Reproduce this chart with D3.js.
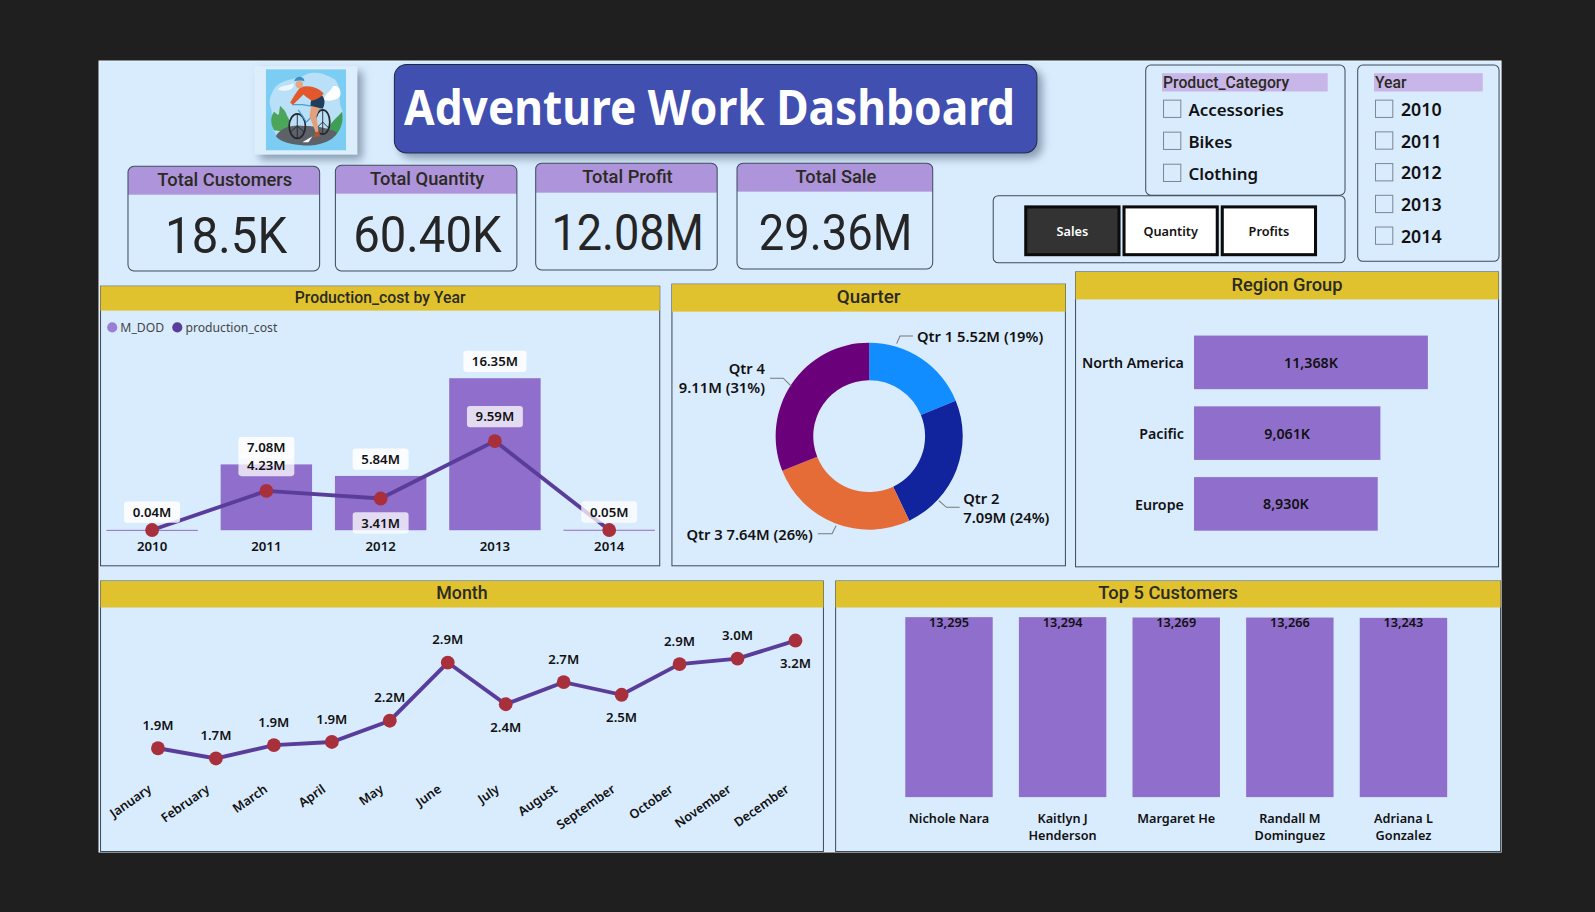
<!DOCTYPE html>
<html>
<head>
<meta charset="utf-8">
<title>Adventure Work Dashboard</title>
<script src="https://cdn.jsdelivr.net/npm/d3@7"></script>
<style>
  html, body { margin: 0; padding: 0; background: #1f1f1f; overflow: hidden; }
  svg { display: block; }
  text { font-family: "Noto Sans", "Open Sans", sans-serif; fill: #111; }
  .din { font-family: Roboto, sans-serif; font-weight: 500; fill: #2b2a22; }
  .semi { font-weight: 600; }
</style>
</head>
<body>
<div id="chart"></div>
<script>
// kpi cards
const kpiTitles = ["Total Customers", "Total Quantity", "Total Profit", "Total Sale"]
const kpiValues = ["18.5K", "60.40K", "12.08M", "29.36M"]

// slicers
const productCategories = ["Accessories", "Bikes", "Clothing"]
const slicerYears = ["2010", "2011", "2012", "2013", "2014"]
const buttons = ["Sales", "Quantity", "Profits"]

// production cost by year
const years = ["2010", "2011", "2012", "2013", "2014"]
const mDod = [0.04, 7.08, 5.84, 16.35, 0.05]
const productionCost = [0.02, 4.23, 3.41, 9.59, 0.02]

// quarter
const quarters = ["Qtr 1", "Qtr 2", "Qtr 3", "Qtr 4"]
const quarterSales = [5.52, 7.09, 7.64, 9.11]
const quarterPct = ["19%", "24%", "26%", "31%"]
const quarterColors = ["#118dff", "#12239e", "#e66c37", "#6b007b"]

// region
const regions = ["North America", "Pacific", "Europe"]
const regionSales = [11368, 9061, 8930]

// month
const months = ["January", "February", "March", "April", "May", "June", "July", "August", "September", "October", "November", "December"]
const monthSales = [1.85, 1.72, 1.89, 1.93, 2.20, 2.94, 2.41, 2.69, 2.53, 2.92, 2.99, 3.22]
const monthLabels = ["1.9M", "1.7M", "1.9M", "1.9M", "2.2M", "2.9M", "2.4M", "2.7M", "2.5M", "2.9M", "3.0M", "3.2M"]
const monthsLabelBelow = ["July", "September", "December"]

// top customers
const customers = ["Nichole Nara", "Kaitlyn J|Henderson", "Margaret He", "Randall M|Dominguez", "Adriana L|Gonzalez"]
const customerSales = [13295, 13294, 13269, 13266, 13243]

const panelBg = "#d9ecfe"
const borderCol = "#3d4a5c"
const purpleHead = "#ae94db"
const yellowHead = "#e0c22e"
const barCol = "#8f6fcb"
const lineCol = "#5a3d9a"
const dotCol = "#a8303d"

// everything below is laid out on a 1568x897 grid and scaled to the window
const svg = d3.select("#chart").append("svg")
    .attr("width", 1595)
    .attr("height", 912)
    .attr("viewBox", "0 0 1568 897")

const defs = svg.append("defs")
const shadow = defs.append("filter").attr("id", "shadow")
    .attr("x", "-10%").attr("y", "-15%").attr("width", "125%").attr("height", "140%")
shadow.append("feDropShadow")
    .attr("dx", 5).attr("dy", 5).attr("stdDeviation", 4)
    .attr("flood-color", "#5c6f86").attr("flood-opacity", 0.65)

svg.append("rect").attr("width", 1568).attr("height", 897).attr("fill", "#1f1f1f")
svg.append("rect")
    .attr("x", 97).attr("y", 60).attr("width", 1379).attr("height", 778)
    .attr("fill", panelBg).attr("stroke", "#eef5fb").attr("stroke-width", 1)

// ---- logo
drawLogo()

function drawLogo() {
    svg.append("rect")
        .attr("x", 250).attr("y", 65).attr("width", 101).attr("height", 87)
        .attr("fill", "#dcedfc").attr("filter", "url(#shadow)")
    defs.append("clipPath").attr("id", "logoClip")
        .append("rect").attr("width", 79).attr("height", 80)
    const g = svg.append("g")
        .attr("transform", "translate(261,68)")
        .attr("clip-path", "url(#logoClip)")
    g.append("rect").attr("width", 79).attr("height", 80).attr("fill", "#7bcdf3")
    g.append("path")
        .attr("d", "M6 24 C12 8 28 12 40 5 C52 1 60 6 68 10 C76 20 70 30 75 40 C78 52 70 62 60 68 C46 76 24 74 12 66 C2 56 8 48 5 38 C3 32 4 28 6 24Z")
        .attr("fill", "#b9e0f6")
    g.append("path").attr("d", "M12 20 C16 15 22 17 27 14 C30 20 20 23 12 20Z").attr("fill", "#eef7fd")
    g.append("path").attr("d", "M57 30 C58 24 63 23 66 17 C71 15 75 20 73 27 C69 31 63 32 57 30Z").attr("fill", "#fff")
    g.append("path").attr("d", "M8 60 C4 52 5 47 8 42 C11 44 12 46 13 44 L14 36 C18 40 20 42 21 46 C24 50 25 56 22 62Z").attr("fill", "#4ba65a")
    g.append("path").attr("d", "M60 62 C62 54 68 50 75 42 C77 50 74 60 68 66Z").attr("fill", "#3f9e55")
    g.append("path").attr("d", "M10 66 C14 58 26 54 38 56 C50 56 62 58 70 62 C68 70 52 76 38 75 C26 74 14 72 10 66Z").attr("fill", "#5d6168")
    g.append("path").attr("d", "M36 72 L46 66 L42 72Z").attr("fill", "#fff")
    const wheel = [[31, 56, 8, 12], [56, 52, 7, 12]]
    g.selectAll("ellipse.w").data(wheel).enter().append("ellipse")
        .attr("class", "w")
        .attr("cx", d => d[0]).attr("cy", d => d[1]).attr("rx", d => d[2]).attr("ry", d => d[3])
        .attr("fill", "none").attr("stroke", "#26282e").attr("stroke-width", 1.7)
    g.append("path").attr("d", "M31 44 V68 M31 56 L24 62 M31 56 L38 62 M56 40 V64 M56 52 L50 58 M56 52 L62 58")
        .attr("stroke", "#26282e").attr("stroke-width", 0.9).attr("fill", "none")
    g.append("path").attr("d", "M26 35 H36 L54 38 L40 52 L32 40").attr("fill", "none").attr("stroke", "#4e9bd6").attr("stroke-width", 1.2)
    g.append("path").attr("d", "M45 34 L43 46 L49 62 L52 62 L50 46 L54 36Z").attr("fill", "#e2a17c")
    g.append("path").attr("d", "M49 62 L53 61 L53 66 L47 67Z").attr("fill", "#b5552f")
    g.append("path").attr("d", "M50 23 C57 24 60 32 56 39 L44 36 C44 30 46 26 50 23Z").attr("fill", "#1f3d5c")
    g.append("path").attr("d", "M34 18 C42 15 52 18 57 24 C54 28 50 30 45 31 C42 29 39 27 37 25 C33 29 30 32 27 35 L24 33 C27 28 30 22 34 18Z").attr("fill", "#e2572b")
    g.append("circle").attr("cx", 33).attr("cy", 15).attr("r", 3.6).attr("fill", "#e6a681")
    g.append("path").attr("d", "M28 12 C29 6 38 6 38 12 C35 11 32 11 28 12Z").attr("fill", "#3e8fc9")
}

// ---- title
svg.append("rect")
    .attr("x", 387.5).attr("y", 63.5).attr("width", 632).attr("height", 87).attr("rx", 12)
    .attr("fill", "#3f4fb0").attr("stroke", "#1d2a4a").attr("stroke-width", 1)
    .attr("filter", "url(#shadow)")
svg.append("text")
    .attr("x", 397).attr("y", 123)
    .attr("font-size", 47).attr("font-weight", 700)
    .attr("textLength", 601).attr("lengthAdjust", "spacingAndGlyphs")
    .style("fill", "#fff")
    .text("Adventure Work Dashboard")

// ---- kpi cards
const kpiBoxes = [
    {x: 125.5, y: 163.5, w: 188.5, h: 103, head: 28, numX: 222, numW: 120},
    {x: 329.5, y: 162.5, w: 178.5, h: 104, head: 28, numX: 420, numW: 146},
    {x: 526.5, y: 160.5, w: 178.5, h: 105, head: 29, numX: 617, numW: 150},
    {x: 724.5, y: 160.5, w: 192.5, h: 104, head: 28, numX: 821.5, numW: 151}
]
kpiBoxes.forEach(function(b, i) {
    const clipId = "kpiClip" + i
    defs.append("clipPath").attr("id", clipId)
        .append("rect").attr("x", b.x).attr("y", b.y).attr("width", b.w).attr("height", b.h).attr("rx", 6)
    svg.append("rect")
        .attr("x", b.x).attr("y", b.y).attr("width", b.w).attr("height", b.head)
        .attr("fill", purpleHead).attr("clip-path", `url(#${clipId})`)
    svg.append("rect")
        .attr("x", b.x).attr("y", b.y).attr("width", b.w).attr("height", b.h).attr("rx", 6)
        .attr("fill", "none").attr("stroke", borderCol)
    svg.append("text").attr("class", "din")
        .attr("x", b.x + b.w / 2 + 1).attr("y", b.y + 19.5)
        .attr("text-anchor", "middle").attr("font-size", 18)
        .text(kpiTitles[i])
    svg.append("text")
        .attr("x", b.numX).attr("y", b.y + 85)
        .attr("text-anchor", "middle").attr("font-size", 50)
        .attr("textLength", b.numW).attr("lengthAdjust", "spacingAndGlyphs")
        .style("font-family", "Roboto, sans-serif").style("fill", "#252525")
        .text(kpiValues[i])
})

// ---- slicers
function slicer(x, y, w, h, title, headW, items, stepY, textX, size) {
    svg.append("rect")
        .attr("x", x).attr("y", y).attr("width", w).attr("height", h).attr("rx", 5)
        .attr("fill", "none").attr("stroke", borderCol)
    svg.append("rect")
        .attr("x", x + 16).attr("y", y + 8).attr("width", headW).attr("height", 18)
        .attr("fill", "#c8b6e8")
    svg.append("text").attr("class", "din")
        .attr("x", x + 17).attr("y", y + 23).attr("font-size", 15.5)
        .text(title)
    const row = svg.selectAll(null).data(items).enter().append("g")
        .attr("transform", (d, i) => `translate(${x + 17},${y + 34 + i * stepY})`)
    row.append("rect")
        .attr("x", 0.5).attr("y", 0.5).attr("width", 17).attr("height", 17)
        .attr("fill", "none").attr("stroke", "#7c8894")
    row.append("text").attr("class", "semi")
        .attr("x", textX).attr("y", 16).attr("font-size", size)
        .text(d => d)
}
slicer(1126.5, 64, 196, 128, "Product_Category", 163, productCategories, 31.5, 25, 16.6)
slicer(1335, 64, 139, 193, "Year", 107, slicerYears, 31.2, 25.5, 17.5)

// ---- buttons
svg.append("rect")
    .attr("x", 976.5).attr("y", 192.5).attr("width", 346).attr("height", 66).attr("rx", 5)
    .attr("fill", "none").attr("stroke", borderCol)
const buttonX = d3.scaleBand().domain(buttons).range([1007, 1295]).paddingInner(0.02)
const btn = svg.selectAll(null).data(buttons).enter().append("g")
    .attr("transform", d => `translate(${buttonX(d)},202)`)
btn.append("rect")
    .attr("x", 1.5).attr("y", 1.5).attr("width", buttonX.bandwidth() - 3).attr("height", 47)
    .attr("fill", (d, i) => i == 0 ? "#333" : "#fff")
    .attr("stroke", "#0b0b0b").attr("stroke-width", 3)
btn.append("text").attr("class", "semi")
    .attr("x", buttonX.bandwidth() / 2).attr("y", 30)
    .attr("text-anchor", "middle").attr("font-size", 12.5)
    .style("fill", (d, i) => i == 0 ? "#fff" : "#111")
    .text(d => d)

// ---- panels
function panel(x, y, w, h, headH, title, size) {
    svg.append("rect")
        .attr("x", x).attr("y", y).attr("width", w).attr("height", h)
        .attr("fill", "none").attr("stroke", borderCol)
    svg.append("rect")
        .attr("x", x).attr("y", y).attr("width", w).attr("height", headH)
        .attr("fill", yellowHead)
    svg.append("text").attr("class", "din")
        .attr("x", x + w / 2).attr("y", y + headH / 2 + size * 0.36 - 1.5)
        .attr("text-anchor", "middle").attr("font-size", size)
        .text(title)
}

function labelBox(x, y, txt, w, op) {
    svg.append("rect")
        .attr("x", x - w / 2).attr("y", y - 10.5).attr("width", w).attr("height", 21).attr("rx", 3)
        .attr("fill", "#fff").attr("fill-opacity", op)
    svg.append("text").attr("class", "semi")
        .attr("x", x).attr("y", y + 4.7)
        .attr("text-anchor", "middle").attr("font-size", 13)
        .text(txt)
}

// production cost by year
panel(98.5, 281.5, 550, 275, 24, "Production_cost by Year", 15.5)

svg.append("circle").attr("cx", 110).attr("cy", 322).attr("r", 5).attr("fill", "#9b7fd6")
svg.append("text").attr("x", 118).attr("y", 326.5).attr("font-size", 12).style("fill", "#444").text("M_DOD")
svg.append("circle").attr("cx", 174).attr("cy", 322).attr("r", 5).attr("fill", lineCol)
svg.append("text").attr("x", 182).attr("y", 326.5).attr("font-size", 12).style("fill", "#444").text("production_cost")

const yearX = d3.scaleBand().domain(years).range([93, 655]).paddingInner(0.2).paddingOuter(0.1)
const costY = d3.scaleLinear().domain([0, 16.35]).range([521.5, 372])

svg.selectAll(null).data(mDod).enter().append("rect")
    .attr("x", (d, i) => yearX(years[i]))
    .attr("y", d => costY(d))
    .attr("width", yearX.bandwidth())
    .attr("height", d => Math.max(costY(0) - costY(d), 1))
    .attr("fill", barCol)

const costLine = d3.line()
    .x((d, i) => yearX(years[i]) + yearX.bandwidth() / 2)
    .y(d => costY(d))
svg.append("path").datum(productionCost)
    .attr("d", costLine)
    .attr("fill", "none").attr("stroke", lineCol).attr("stroke-width", 3.8)
svg.selectAll(null).data(productionCost).enter().append("circle")
    .attr("cx", (d, i) => yearX(years[i]) + yearX.bandwidth() / 2)
    .attr("cy", d => costY(d))
    .attr("r", 6.8).attr("fill", dotCol)

const yearAxis = d3.axisBottom(yearX).tickSize(0).tickPadding(0)
const yearAxisG = svg.append("g").attr("transform", "translate(0,533)").call(yearAxis)
yearAxisG.select(".domain").remove()
yearAxisG.selectAll("text").attr("class", "semi").attr("font-size", 13).attr("font-family", null).style("fill", "#111")

// bar totals then line values, white chips over the marks
const centerYear = y => yearX(y) + yearX.bandwidth() / 2
labelBox(centerYear("2010"), costY(mDod[0]) - 17.5, "0.04M", 55, 0.85)
labelBox(centerYear("2011"), costY(mDod[1]) - 16.5, "7.08M", 55, 0.85)
labelBox(centerYear("2012"), costY(mDod[2]) - 16.5, "5.84M", 55, 0.85)
labelBox(centerYear("2013"), costY(mDod[3]) - 16.5, "16.35M", 62, 0.85)
labelBox(centerYear("2014"), costY(mDod[4]) - 17.5, "0.05M", 55, 0.75)
labelBox(centerYear("2011"), costY(productionCost[1]) - 25, "4.23M", 55, 0.75)
labelBox(centerYear("2012"), costY(productionCost[2]) + 24, "3.41M", 55, 0.75)
labelBox(centerYear("2013"), costY(productionCost[3]) - 24, "9.59M", 55, 0.75)

// quarter donut
panel(660.5, 279.5, 387, 277, 27, "Quarter", 18.5)

const pie = d3.pie().sort(null)
const arc = d3.arc().innerRadius(55).outerRadius(92)
svg.append("g").attr("transform", "translate(854.5,429)")
    .selectAll("path").data(pie(quarterSales)).enter().append("path")
    .attr("d", arc)
    .attr("fill", (d, i) => quarterColors[i])

const quarterNotes = [
    {lead: "M881.5 338 L884.8 330.5 H897.5", lines: [quarters[0] + " " + quarterSales[0] + "M (" + quarterPct[0] + ")"], x: 901.5, y: 336, anchor: "start"},
    {lead: "M923 492.5 L930.5 499 H943.5", lines: [quarters[1], quarterSales[1] + "M (" + quarterPct[1] + ")"], x: 947, y: 495.5, anchor: "start"},
    {lead: "M804 525 H818 L822 517", lines: [quarters[2] + " " + quarterSales[2] + "M (" + quarterPct[2] + ")"], x: 799, y: 531, anchor: "end"},
    {lead: "M757 372 H770 L778 380", lines: [quarters[3], quarterSales[3] + "M (" + quarterPct[3] + ")"], x: 752, y: 367.5, anchor: "end"}
]
quarterNotes.forEach(function(n) {
    svg.append("path").attr("d", n.lead).attr("fill", "none").attr("stroke", "#777")
    n.lines.forEach(function(t, j) {
        svg.append("text").attr("class", "semi")
            .attr("x", n.x).attr("y", n.y + j * 19)
            .attr("text-anchor", n.anchor).attr("font-size", 14.5)
            .text(t)
    })
})

// region bars
panel(1057.5, 267.5, 416, 290, 27, "Region Group", 18)

const regionY = d3.scaleBand().domain(regions).range([321, 531]).paddingInner(17 / 70).paddingOuter(0.13)
const regionX = d3.scaleLinear().domain([0, 11368]).range([1174, 1404])
svg.selectAll(null).data(regionSales).enter().append("rect")
    .attr("x", regionX(0))
    .attr("y", (d, i) => regionY(regions[i]))
    .attr("width", d => regionX(d) - regionX(0))
    .attr("height", regionY.bandwidth())
    .attr("fill", barCol)
svg.selectAll(null).data(regionSales).enter().append("text")
    .attr("class", "semi")
    .attr("x", d => (regionX(d) + regionX(0)) / 2)
    .attr("y", (d, i) => regionY(regions[i]) + regionY.bandwidth() / 2 + 5.5)
    .attr("text-anchor", "middle").attr("font-size", 14)
    .text(d => d3.format(",")(d) + "K")
const regionAxisG = svg.append("g").attr("transform", "translate(1174,1.5)")
    .call(d3.axisLeft(regionY).tickSize(0).tickPadding(10))
regionAxisG.select(".domain").remove()
regionAxisG.selectAll("text").attr("class", "semi").attr("font-size", 14).attr("font-family", null).style("fill", "#111")

// month line
panel(98.5, 571.5, 711, 266, 26, "Month", 17.5)

const monthX = d3.scalePoint().domain(months).range([155, 782])
const monthY = d3.scaleLinear().domain([1.72, 3.22]).range([746, 630])
svg.append("path").datum(monthSales)
    .attr("d", d3.line().x((d, i) => monthX(months[i])).y(d => monthY(d)))
    .attr("fill", "none").attr("stroke", lineCol).attr("stroke-width", 3.8)
svg.selectAll(null).data(monthSales).enter().append("circle")
    .attr("cx", (d, i) => monthX(months[i]))
    .attr("cy", d => monthY(d))
    .attr("r", 6.8).attr("fill", dotCol)
svg.selectAll(null).data(monthSales).enter().append("text")
    .attr("class", "semi")
    .attr("x", (d, i) => monthX(months[i]))
    .attr("y", (d, i) => monthY(d) + (monthsLabelBelow.includes(months[i]) ? 27 : -18))
    .attr("text-anchor", "middle").attr("font-size", 13)
    .text((d, i) => monthLabels[i])
const monthAxisG = svg.append("g").attr("transform", "translate(0,775)")
    .call(d3.axisBottom(monthX).tickSize(0).tickPadding(0))
monthAxisG.select(".domain").remove()
monthAxisG.selectAll("text")
    .attr("class", "semi").attr("font-size", 12.5).attr("font-family", null).style("fill", "#111")
    .attr("text-anchor", "end")
    .attr("dy", "0.3em")
    .attr("transform", "translate(-8,0) rotate(-35)")

// top customers
panel(821.5, 571.5, 654, 266, 26, "Top 5 Customers", 18)

const custX = d3.scaleBand().domain(customers).range([867.65, 1445.35]).paddingInner(25.75 / 111.75).paddingOuter(0.2)
const custY = d3.scaleLinear().domain([0, 13295]).range([784, 607])
svg.selectAll(null).data(customerSales).enter().append("rect")
    .attr("x", (d, i) => custX(customers[i]))
    .attr("y", d => custY(d))
    .attr("width", custX.bandwidth())
    .attr("height", d => custY(0) - custY(d))
    .attr("fill", barCol)
svg.selectAll(null).data(customerSales).enter().append("text")
    .attr("class", "semi")
    .attr("x", (d, i) => custX(customers[i]) + custX.bandwidth() / 2)
    .attr("y", 617)
    .attr("text-anchor", "middle").attr("font-size", 12.5)
    .text(d => d3.format(",")(d))
customers.forEach(function(c) {
    c.split("|").forEach(function(part, j) {
        svg.append("text").attr("class", "semi")
            .attr("x", custX(c) + custX.bandwidth() / 2)
            .attr("y", 809 + j * 17)
            .attr("text-anchor", "middle").attr("font-size", 12.5)
            .text(part)
    })
})
</script>
</body>
</html>
